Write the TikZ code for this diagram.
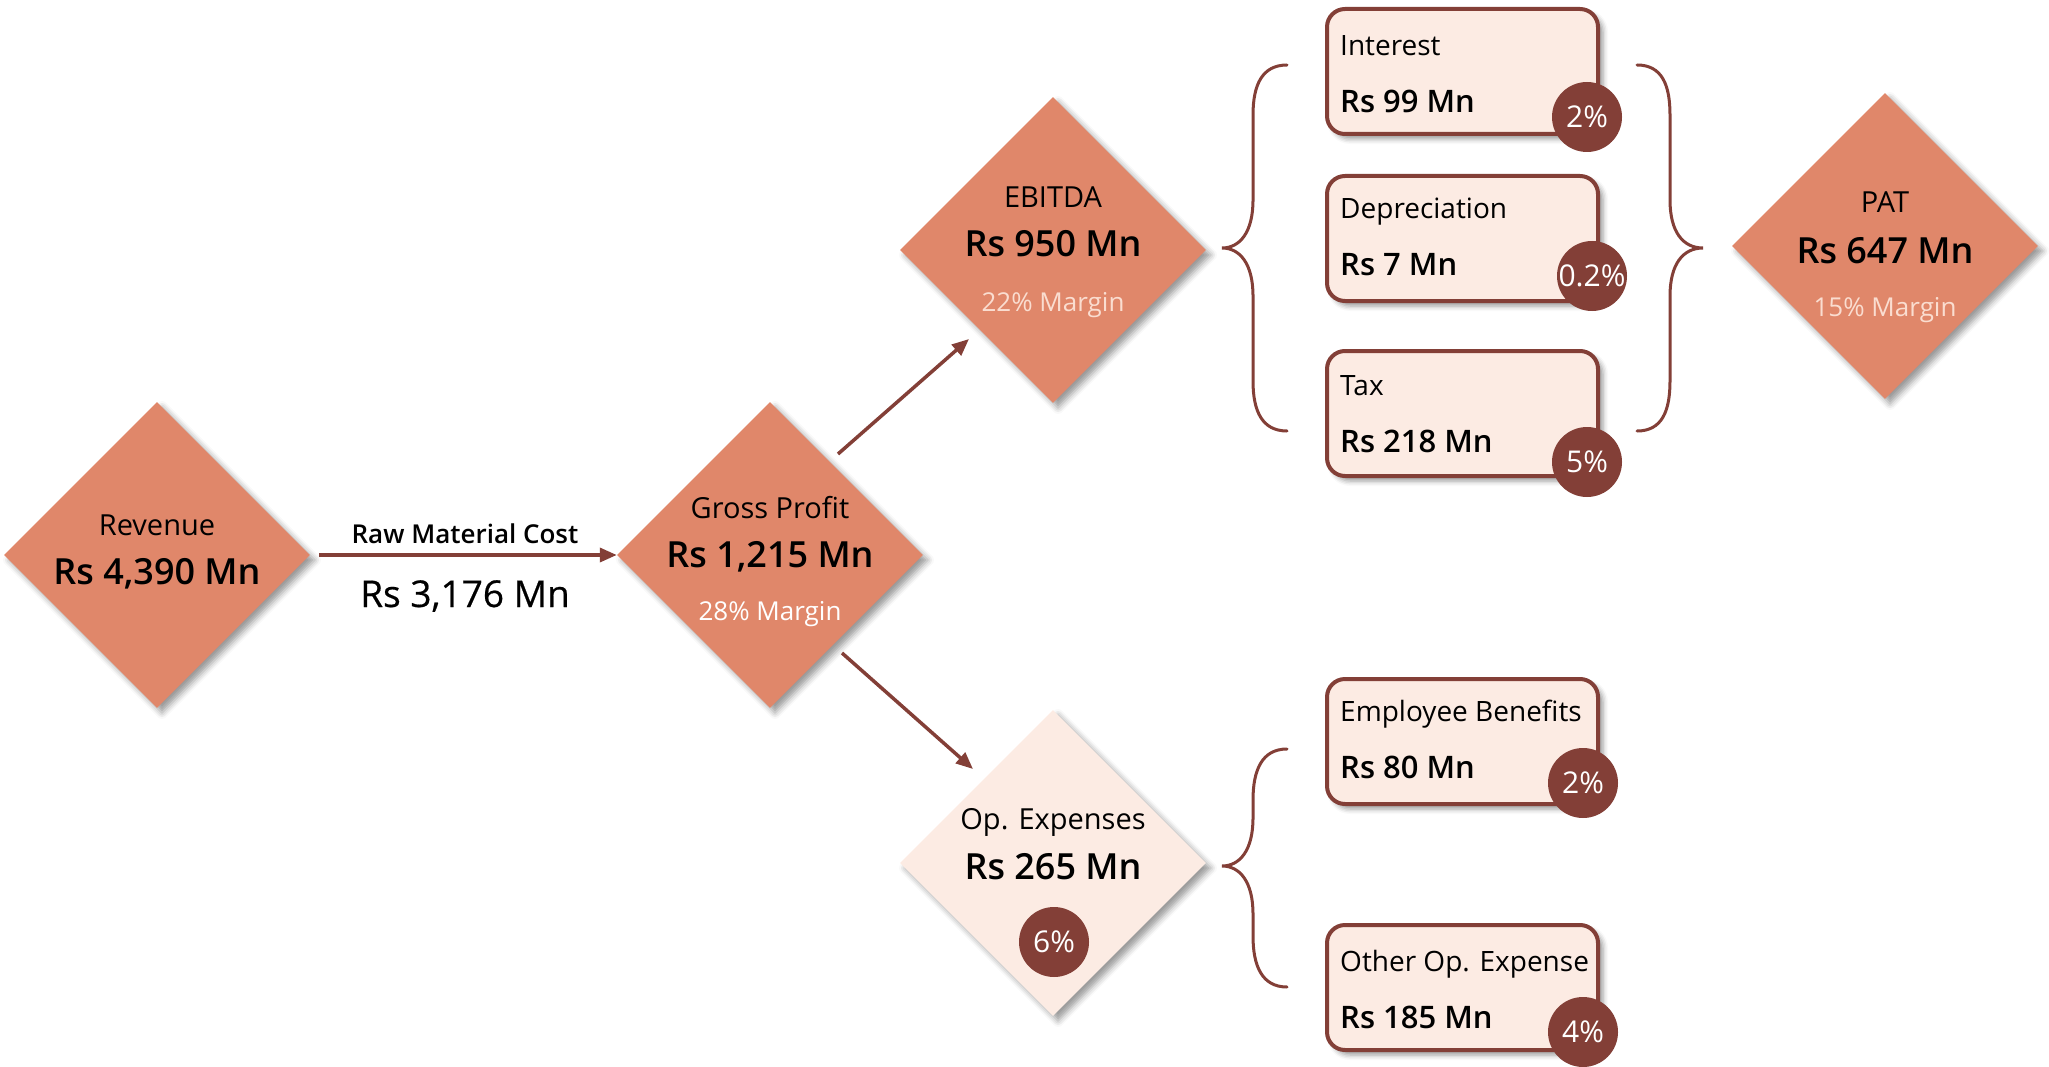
\documentclass[tikz,border=0pt]{standalone}
\usepackage{fontspec}
\setmainfont{Open Sans}[BoldFont={Open Sans Semibold}]
\usetikzlibrary{shapes.geometric,shadows.blur,calc,arrows.meta}
\definecolor{salmon}{HTML}{E0876A}
\definecolor{lightfill}{HTML}{FCEBE3}
\definecolor{brownc}{HTML}{833F37}
\definecolor{margtxt}{HTML}{FADDD0}
\newcommand\myfs[1]{\fontsize{#1}{#1}\selectfont}
\tikzset{
  dia/.style={shape=diamond, minimum width=306pt, minimum height=306pt, inner sep=0pt, fill=salmon,
    blur shadow={shadow xshift=5pt, shadow yshift=-5pt, shadow blur radius=6pt, shadow opacity=40}},
  dialight/.style={dia, fill=lightfill},
  lab/.style={anchor=base, inner sep=0pt, font=\myfs{29}},
  val/.style={anchor=base, inner sep=0pt, font=\myfs{36}\bfseries},
  marg/.style={anchor=base, inner sep=0pt, font=\myfs{26}, text=margtxt},
  boxc/.style={anchor=north west, draw=brownc, line width=4pt, fill=lightfill, rounded corners=18pt,
    minimum width=271pt, minimum height=125pt, inner sep=0pt,
    blur shadow={shadow xshift=5pt, shadow yshift=-5pt, shadow blur radius=5pt, shadow opacity=40}},
  blab/.style={anchor=base west, inner sep=0pt, font=\myfs{28}},
  bval/.style={anchor=base west, inner sep=0pt, font=\myfs{31}\bfseries},
  pct/.style={circle, fill=brownc, minimum size=70pt, inner sep=0pt, text=white, font=\myfs{30}},
  conn/.style={draw=brownc, line width=3.5pt, -{Triangle[length=17pt,width=14pt]}},
  br/.style={draw=brownc, line width=3pt, line cap=round}
}
\begin{document}
\begin{tikzpicture}[x=1pt,y=-1pt]
\useasboundingbox (0,0) rectangle (2049,1067);
% diamonds
\node[dia] (rev) at (157,555) {};
\node[dia] (gp) at (770,555) {};
\node[dia] (ebitda) at (1053,250) {};
\node[dialight] (opex) at (1053,863) {};
\node[dia] (pat) at (1885,246) {};
% revenue
\node[lab] (revL) at (157,535) {Revenue};
\node[val] (revV) at (157,584) {Rs 4,390 Mn};
% raw material
\draw[conn, shorten <=9pt] (rev) -- (gp);
\node[anchor=base, inner sep=0pt, font=\myfs{26}\bfseries] (rmL) at (465,543) {Raw Material Cost};
\node[anchor=base, inner sep=0pt, font=\myfs{37}\addfontfeature{FakeBold=0.5}] (rmV) at (465,607) {Rs 3,176 Mn};
% gross profit
\node[lab] (gpL) at (770,518) {Gross Profit};
\node[val] (gpV) at (770,567) {Rs 1,215 Mn};
\node[marg, text=white] (gpM) at (770,620) {28\% Margin};
% ebitda
\node[lab] (ebL) at (1053,208) {EBITDA};
\node[val] (ebV) at (1053,257) {Rs 950 Mn};
\node[marg] (ebM) at (1053,311) {22\% Margin};
% pat
\node[lab] (patL) at (1885,213) {PAT};
\node[val] (patV) at (1885,263) {Rs 647 Mn};
\node[marg] (patM) at (1885,316) {15\% Margin};
% op expenses
\node[lab] (opL) at (1053,829) {Op. Expenses};
\node[val] (opV) at (1053,879) {Rs 265 Mn};
\node[pct] (opP) at (1054,942) {\makebox[0pt]{6\%}};
% arrows
\draw[conn] ($(gp)+(68,-101)$) -- ($(ebitda)+(-84,89)$);
\draw[conn] ($(gp)+(72,98)$) -- ($(opex)+(-80,-94)$);
% braces
\draw[br] (1287,65) .. controls (1262,65) and (1253,85) .. (1253,115) -- (1253,200)
  .. controls (1253,232) and (1240,248) .. (1222,248)
  .. controls (1240,248) and (1253,264) .. (1253,296) -- (1253,381)
  .. controls (1253,411) and (1262,431) .. (1287,431);
\draw[br] (1637,65) .. controls (1662,65) and (1670,85) .. (1670,115) -- (1670,200)
  .. controls (1670,232) and (1683,248) .. (1703,248)
  .. controls (1683,248) and (1670,264) .. (1670,296) -- (1670,381)
  .. controls (1670,411) and (1662,431) .. (1637,431);
\draw[br] (1287,749) .. controls (1262,749) and (1253,770) .. (1253,800) -- (1253,818)
  .. controls (1253,850) and (1240,866) .. (1222,866)
  .. controls (1240,866) and (1253,882) .. (1253,914) -- (1253,936)
  .. controls (1253,966) and (1262,987) .. (1287,987);
% boxes
\node[boxc] (intB) at (1325,7) {};
\node[blab] (intL) at (1340,56) {Interest};
\node[bval] (intV) at (1340,113) {Rs 99 Mn};
\node[pct] (intP) at (1587,117) {\makebox[0pt]{2\%}};

\node[boxc] (depB) at (1325,174) {};
\node[blab] (depL) at (1340,219) {Depreciation};
\node[bval] (depV) at (1340,276) {Rs 7 Mn};
\node[pct] (depP) at (1592,276) {\makebox[0pt]{0.2\%}};

\node[boxc] (taxB) at (1325,349) {};
\node[blab] (taxL) at (1340,395) {Tax};
\node[bval] (taxV) at (1340,452) {Rs 218 Mn};
\node[pct] (taxP) at (1587,462) {\makebox[0pt]{5\%}};

\node[boxc] (empB) at (1325,677) {};
\node[blab] (empL) at (1340,721) {Employee Benefits};
\node[bval] (empV) at (1340,778) {Rs 80 Mn};
\node[pct] (empP) at (1583,783) {\makebox[0pt]{2\%}};

\node[boxc] (othB) at (1325,923) {};
\node[blab] (othL) at (1340,971) {Other Op. Expense};
\node[bval] (othV) at (1340,1028) {Rs 185 Mn};
\node[pct] (othP) at (1583,1032) {\makebox[0pt]{4\%}};
\end{tikzpicture}
\end{document}
